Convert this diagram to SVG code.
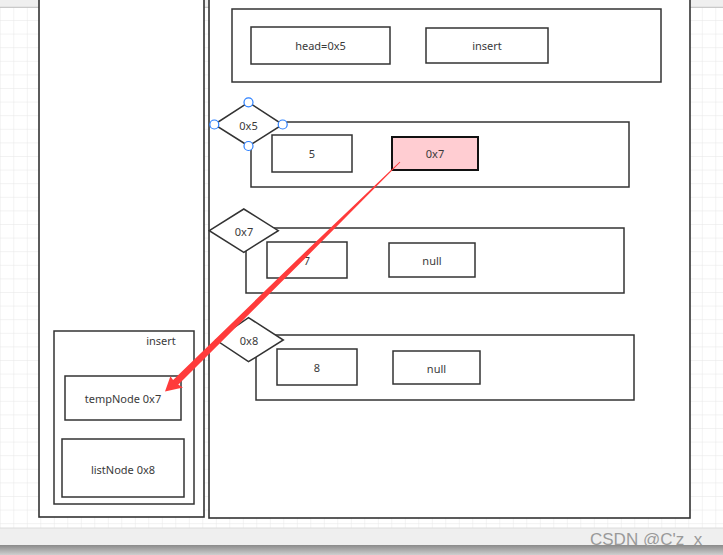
<svg xmlns="http://www.w3.org/2000/svg" width="723" height="555" viewBox="0 0 723 555">
<style>
.box{fill:#fff;stroke:#333;stroke-width:1.5}
.panel{fill:#fff;stroke:#333;stroke-width:1.6}
.t{font-family:"Noto Sans","Liberation Sans",Arial,sans-serif;font-size:11px;fill:#3a3a3a;text-anchor:middle;dominant-baseline:central}
.handle{fill:#fff;stroke:#2a7fff;stroke-width:1.2}
.arrow{fill:#ff3b3b}
</style>
<defs>
<pattern id="grid" x="13.3" y="6.4" width="13.5" height="13.6" patternUnits="userSpaceOnUse">
<path d="M0 0V13.6M0 0H13.5" fill="none" stroke="#e6e6e6" stroke-width="1"/>
</pattern>
<linearGradient id="band" x1="0" y1="0" x2="0" y2="1">
<stop offset="0" stop-color="#8a8a8a"/>
<stop offset="1" stop-color="#cfcfcf"/>
</linearGradient>
</defs>
<rect width="723" height="555" fill="#fff"/>
<rect width="723" height="555" fill="url(#grid)"/>
<g id="top-bar">
<rect x="0" y="0" width="723" height="7" fill="#efefef"/>
<line x1="0" y1="7.3" x2="723" y2="7.3" stroke="#bdbdbd" stroke-width="1"/>
<line x1="429" y1="0" x2="429" y2="7" stroke="#cfcfcf" stroke-width="1"/>
<line x1="643" y1="0" x2="643" y2="7" stroke="#cfcfcf" stroke-width="1"/>
</g>
<g id="stack-panel">
<rect class="panel" x="39" y="-2" width="165" height="519"/>
</g>
<g id="heap-panel">
<rect class="panel" x="209" y="-2" width="481" height="520"/>
</g>
<g id="main-frame">
<rect class="box" x="232" y="9" width="429" height="73"/>
</g>
<g id="head">
<rect class="box" x="251" y="27" width="139" height="37"/>
<text class="t" x="320.5" y="45.5">head=0x5</text>
</g>
<g id="insert-call">
<rect class="box" x="426" y="28" width="122" height="35"/>
<text class="t" x="487" y="45.5">insert</text>
</g>
<g id="node-0x5">
<rect class="box" x="251" y="122" width="378" height="65"/>
<rect class="box" x="272" y="135" width="80" height="37"/>
<text class="t" x="312" y="153.5">5</text>
<rect x="392" y="137" width="86" height="33" fill="#ffcdd2" stroke="#111" stroke-width="2"/>
<text class="t" x="435" y="153.5">0x7</text>
<polygon class="box" points="214.3,124.5 248.5,102.3 282.7,124.5 248.5,146"/>
<text class="t" x="248.5" y="125">0x5</text>
<circle class="handle" cx="248.5" cy="102.3" r="4.5"/>
<circle class="handle" cx="214.3" cy="124.5" r="4.5"/>
<circle class="handle" cx="282.7" cy="124.5" r="4.5"/>
<circle class="handle" cx="248.5" cy="146" r="4.5"/>
</g>
<g id="node-0x7">
<rect class="box" x="246" y="228" width="378" height="65"/>
<rect class="box" x="267" y="242" width="80" height="36"/>
<text class="t" x="307" y="260">7</text>
<rect class="box" x="389" y="243" width="86" height="34"/>
<text class="t" x="432" y="260">null</text>
<polygon class="box" points="209.3,230.7 243.8,209 278.3,230.7 243.8,252.3"/>
<text class="t" x="244" y="231">0x7</text>
</g>
<g id="node-0x8">
<rect class="box" x="256" y="335" width="378" height="65"/>
<rect class="box" x="277" y="349" width="80" height="36"/>
<text class="t" x="317" y="367">8</text>
<rect class="box" x="393" y="351" width="87" height="33"/>
<text class="t" x="436.5" y="368">null</text>
<polygon class="box" points="216,340 248.5,317.7 283.3,340 248.5,361.7"/>
<text class="t" x="249" y="340">0x8</text>
</g>
<g id="insert-frame">
<rect class="box" x="54" y="331" width="140" height="173"/>
<text class="t" x="161" y="340">insert</text>
</g>
<g id="tempNode">
<rect class="box" x="65" y="376" width="116" height="44"/>
<text class="t" x="123" y="398">tempNode 0x7</text>
</g>
<g id="listNode">
<rect class="box" x="62" y="439" width="122" height="58"/>
<text class="t" x="123" y="469">listNode 0x8</text>
</g>
<g id="connectors">
<polygon class="arrow" points="399.65,161.64 365.4,194.59 308.06,249.23 171.55,381.5 176.45,386.5 311.14,252.37 366.8,196.01 400.35,162.36"/>
<polygon class="arrow" points="165,391.5 170.4,376.2 174.8,382.6 183,387.6"/>
</g>
<g id="bottom-band">
<rect x="0" y="528" width="723" height="17" fill="#efefef"/>
<line x1="0" y1="528" x2="723" y2="528" stroke="#dcdcdc" stroke-width="1"/>
<rect x="0" y="545" width="723" height="10" fill="url(#band)"/>
<text x="590" y="545" font-family="'Liberation Sans',Arial,sans-serif" font-size="17" fill="#9a9a9a">CSDN @C'z_x</text>
</g>
</svg>
